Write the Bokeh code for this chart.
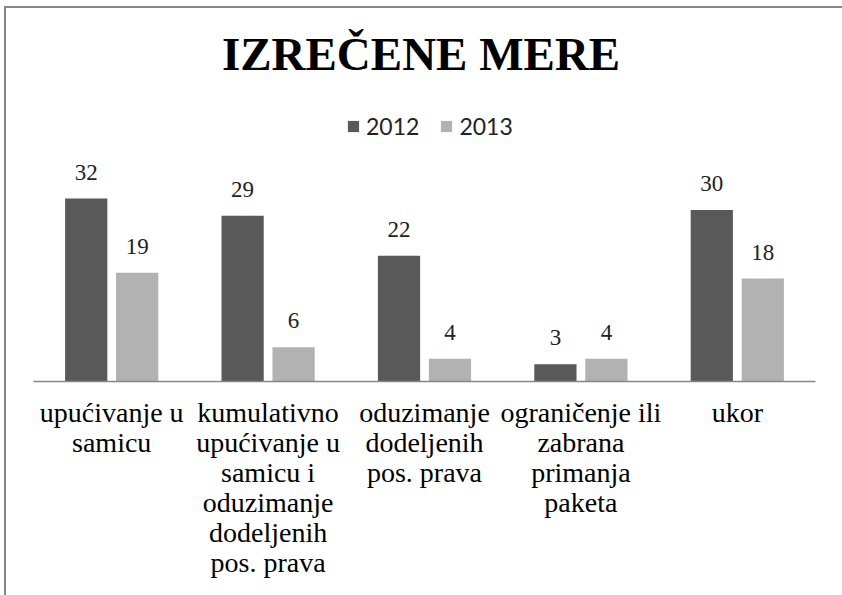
from bokeh.plotting import figure
from bokeh.models import (ColumnDataSource, FactorRange, Range1d, Label, LabelSet,
                          Legend, LegendItem)
from bokeh.transform import dodge
from bokeh.embed import file_html
from bokeh.resources import INLINE

# ---- data ----
categories = [
    "upućivanje u\nsamicu",
    "kumulativno\nupućivanje u\nsamicu i\noduzimanje\ndodeljenih\npos. prava",
    "oduzimanje\ndodeljenih\npos. prava",
    "ograničenje ili\nzabrana\nprimanja\npaketa",
    "ukor",
]
series_names = ["2012", "2013"]
values_2012 = [32, 29, 22, 3, 30]
values_2013 = [19, 6, 4, 4, 18]
title_text = "IZREČENE MERE"

DARK = "#595959"
LIGHT = "#b2b2b2"
GRAY = "#868686"

src = ColumnDataSource(dict(
    cat=categories,
    v2012=values_2012,
    v2013=values_2013,
    l2012=[str(v) for v in values_2012],
    l2013=[str(v) for v in values_2013],
))

p = figure(frame_width=782, frame_height=366, output_backend="svg", toolbar_location=None,
           x_range=FactorRange(factors=categories, range_padding=0),
           y_range=Range1d(0, 64.0),
           min_border_left=27, min_border_right=27,
           min_border_top=7, min_border_bottom=214)
p.outline_line_color = None
p.grid.visible = False
p.yaxis.visible = False
p.styles = {"border-left": "2px solid #878787", "border-top": "2px solid #878787",
            "margin-left": "4px", "margin-top": "6px"}

off = 0.163
bw = 0.27
r1 = p.vbar(x=dodge("cat", -off, range=p.x_range), top="v2012", width=bw,
            source=src, fill_color=DARK, line_color=None)
r2 = p.vbar(x=dodge("cat", off, range=p.x_range), top="v2013", width=bw,
            source=src, fill_color=LIGHT, line_color=None)

for col, lab, dx in (("v2012", "l2012", -off), ("v2013", "l2013", off)):
    ls = LabelSet(x=dodge("cat", dx, range=p.x_range), y=col, text=lab, source=src,
                  text_align="center", text_baseline="alphabetic", y_offset=19,
                  text_font="Lato", text_font_size="23px", text_color="#222222")
    p.add_layout(ls)

ax = p.xaxis[0]
ax.major_label_text_font = "Liberation Serif"
ax.major_label_text_font_size = "28px"
ax.major_label_text_line_height = 0.97
ax.major_label_text_color = "#000000"
ax.major_label_standoff = 9
ax.major_tick_line_color = None
ax.minor_tick_line_color = None
ax.axis_line_color = GRAY
ax.axis_line_width = 1.5

p.add_layout(Label(x=2.478, y=57.3, text=title_text,
                   text_align="center", text_baseline="alphabetic",
                   text_font="Liberation Serif", text_font_style="bold",
                   text_font_size="47px", text_color="#000000"))

legend = Legend(items=[LegendItem(label=series_names[0], renderers=[r1]),
                       LegendItem(label=series_names[1], renderers=[r2])],
                orientation="horizontal", location=(313, 241),
                glyph_width=14, glyph_height=14, label_standoff=6, spacing=20,
                padding=0, margin=0, border_line_color=None, background_fill_alpha=0,
                label_text_font="Lato", label_text_font_size="23px",
                label_text_color="#222222")
p.add_layout(legend)

open("out.html", "w").write(file_html(p, INLINE))
